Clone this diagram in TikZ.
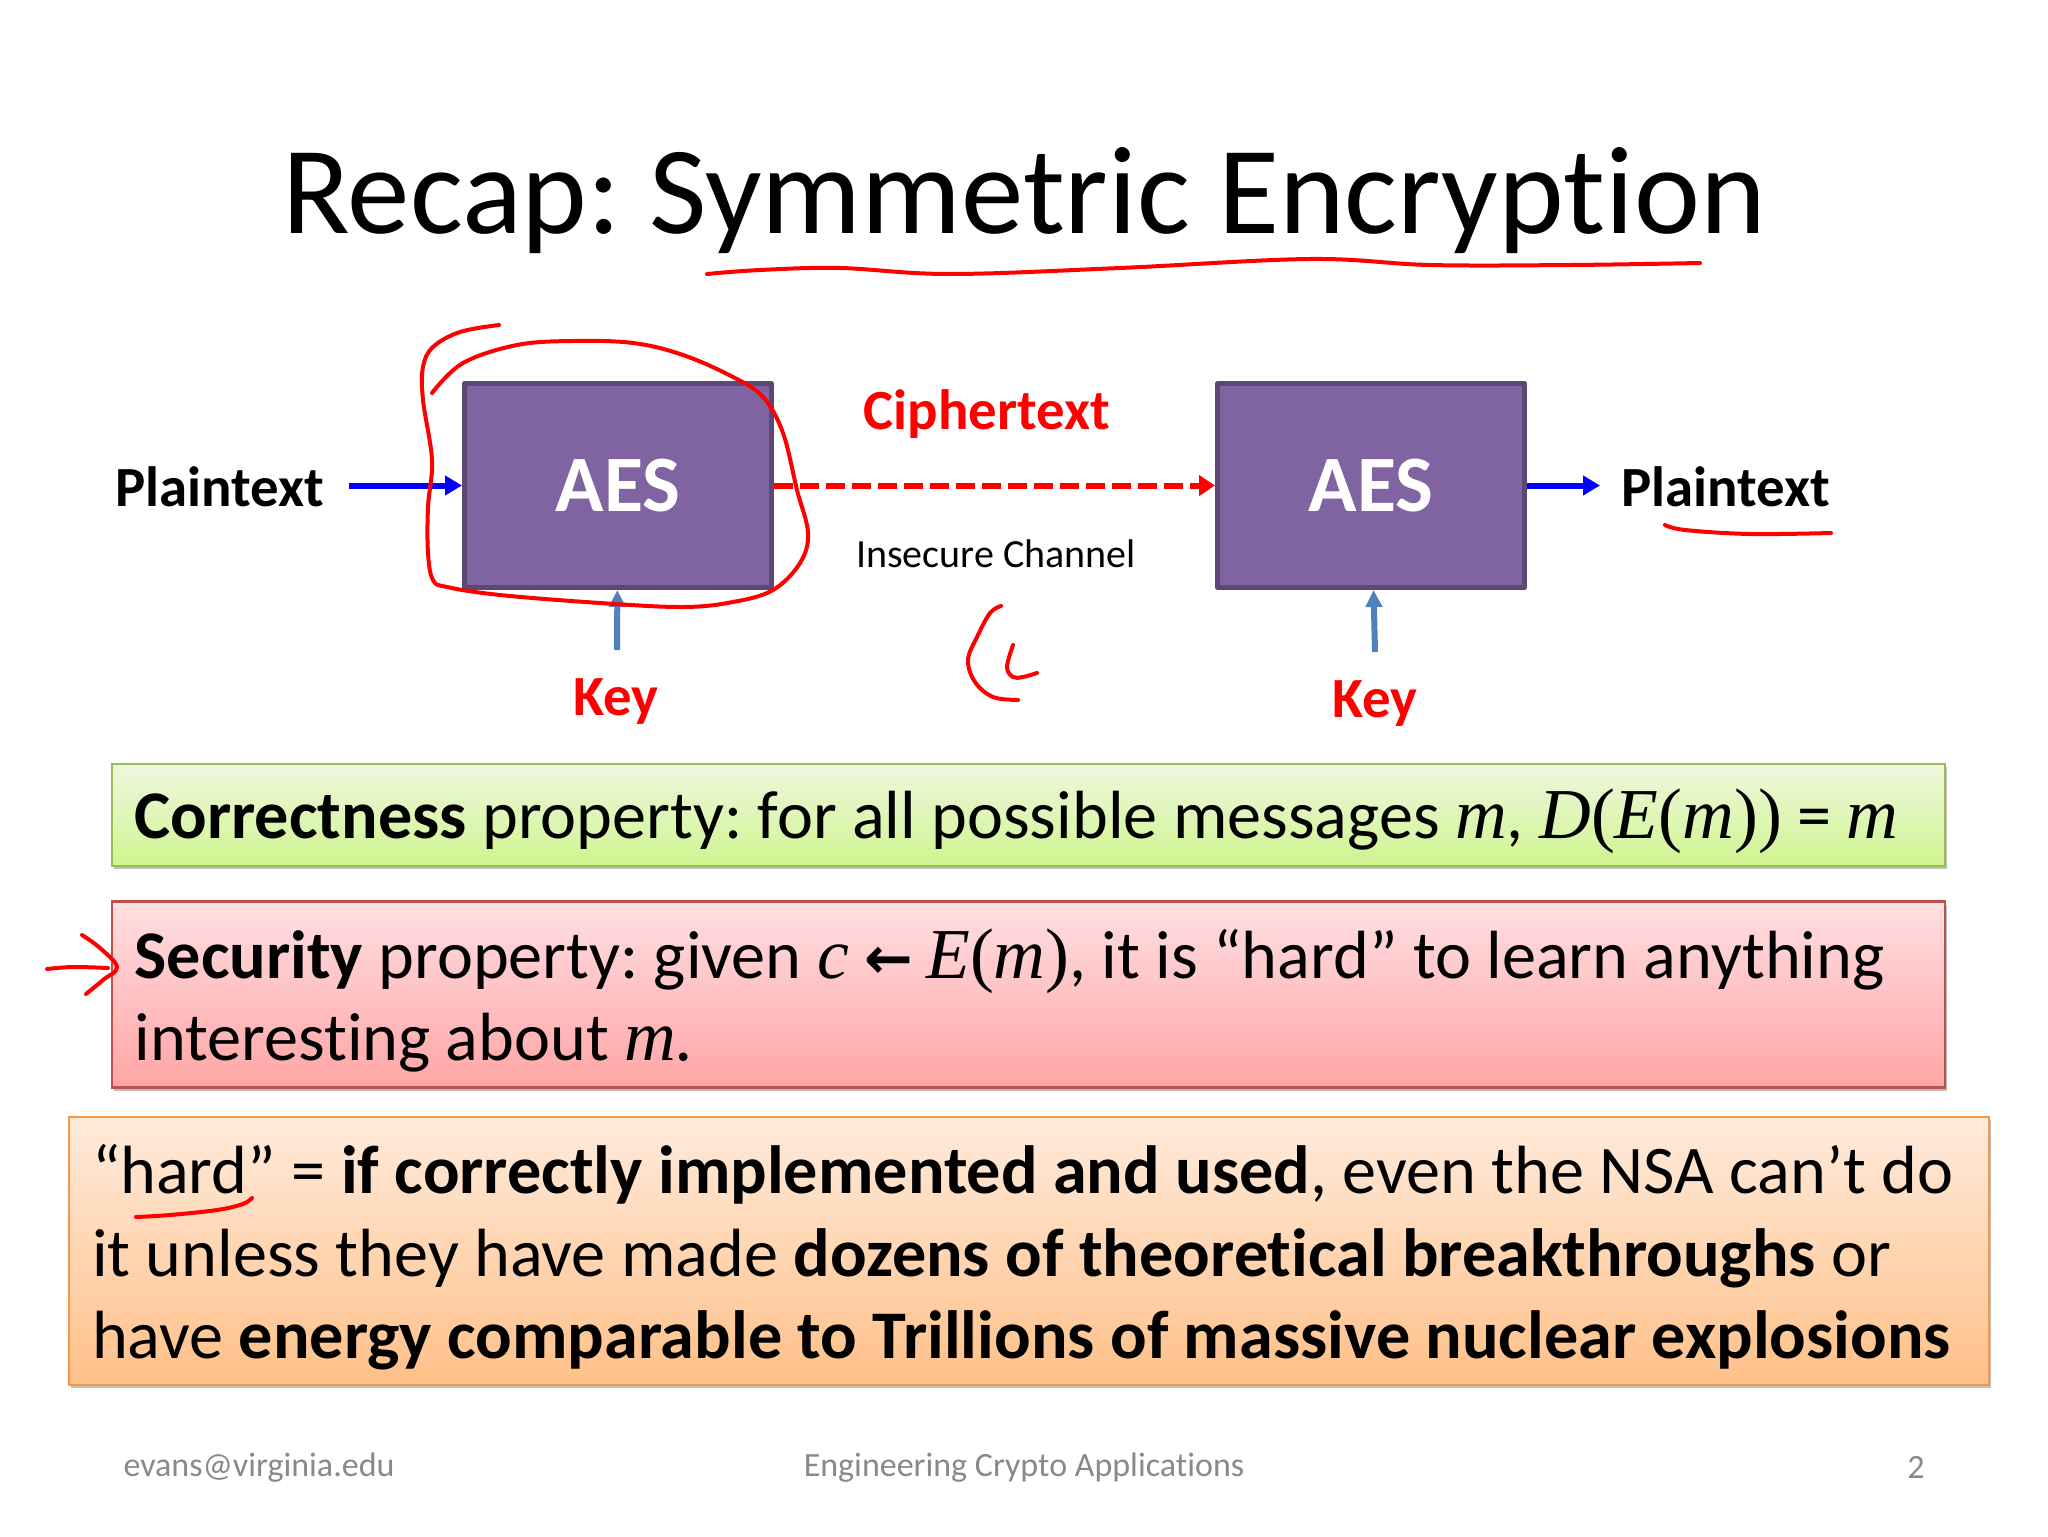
\documentclass[tikz,border=0pt]{standalone}
\usepackage{fontspec}
\setmainfont{Carlito}[Ligatures={TeX,CommonOff}]
\newfontfamily\symbfont{Liberation Serif}[Scale=1.05]
\newfontfamily\arrowfont{DejaVu Sans}
\newcommand{\mvar}[1]{{\symbfont\itshape #1}}
\newcommand{\mrm}[1]{{\symbfont #1}}
\usetikzlibrary{arrows.meta,shadows}
\definecolor{aesfill}{HTML}{8064A2}
\definecolor{aesline}{HTML}{5C4776}
\definecolor{keyblue}{HTML}{4F81BD}
\definecolor{footgray}{HTML}{898989}
\definecolor{okline}{HTML}{9BBB59}
\definecolor{oktop}{HTML}{EFF7DF}
\definecolor{okbot}{HTML}{CFF58F}
\definecolor{secline}{HTML}{C0504D}
\definecolor{sectop}{HTML}{FFDFE2}
\definecolor{secbot}{HTML}{FFA5A5}
\definecolor{hardline}{HTML}{F79646}
\definecolor{hardtop}{HTML}{FFEBDC}
\definecolor{hardbot}{HTML}{FFC088}
\frenchspacing
\tikzset{
  aes/.style={draw=aesline,fill=aesfill,line width=2.5pt,line join=round,minimum width=153.5pt,minimum height=102pt,text=white,font=\fontsize{40}{40}\selectfont\bfseries},
  lbl/.style={inner sep=0pt,font=\fontsize{28.4}{28.4}\selectfont\bfseries},
  foot/.style={inner sep=0pt,text=footgray,font=\fontsize{17}{17}\selectfont},
  prop/.style={line width=1.25pt,inner sep=0pt,align=flush left,font=\fontsize{34.1}{41.2}\selectfont,execute at begin node={\rule{0pt}{31pt}},drop shadow={shadow xshift=0.8pt,shadow yshift=-1.5pt,opacity=0.25,fill=black}},
  feed/.style={blue,line width=3pt,-{Triangle[length=8.5pt,width=9.5pt]}},
  keyin/.style={keyblue,line width=3pt,-{Triangle[length=8.5pt,width=8pt]}},
  ink/.style={red,line width=2pt,line cap=round,line join=round},
}
\begin{document}
\begin{tikzpicture}[x=0.5pt,y=-0.5pt]
      \useasboundingbox (0,0) rectangle (2048,1536);
      \node[inner sep=0pt,font=\fontsize{62.5}{62.5}\selectfont] (title) at (1024,201) {Recap: Symmetric Encryption};
      \node[aes] (aesl) at (618,485.5) {AES};
      \node[aes] (aesr) at (1371,485.5) {AES};
      \node[lbl] (plainin) at (220,487) {Plaintext};
      \node[lbl] (plainout) at (1726,487) {Plaintext};
      \node[lbl,text=red] (cipher) at (987,414) {Ciphertext};
      \node[inner sep=0pt,font=\fontsize{20}{20}\selectfont] (channel) at (996,554) {Insecure Channel};
      \node[lbl,text=red] (keyl) at (616,702) {Key};
      \node[lbl,text=red] (keyr) at (1375,704) {Key};
      \coordinate (feedin) at (349,485.5);
      \coordinate (feedout) at (1600,485.5);
      \coordinate (kl) at (617,650);
      \coordinate (kr) at (1375,652);
      \foreach \i/\j in {feedin/aesl, aesr/feedout} {
	\path[feed] (\i) edge (\j);
      };
      \foreach \i/\j in {kl/aesl, kr/aesr} {
	\path[keyin] (\i) edge (\j);
      };
      \draw[red,line width=3pt,dash pattern=on 9.5pt off 3.5pt,-{Triangle[length=8pt,width=10pt]}] (aesl) -- (aesr);
      \node[prop,draw=okline,top color=oktop,bottom color=okbot,minimum width=916.5pt,minimum height=51pt,text width=894pt] (correct) at (1028.5,815) {\textbf{Correctness} property: for all possible messages \mvar{m}, \mvar{D}\mrm{(}\mvar{E}\mrm{(}\mvar{m}\mrm{))} = \mvar{m}};
      \node[prop,draw=secline,top color=sectop,bottom color=secbot,minimum width=916.5pt,minimum height=93pt,text width=894pt] (secure) at (1028.5,994.5) {\textbf{Security} property: given \mvar{c} {\arrowfont\bfseries\fontsize{29}{29}\selectfont ←}\hspace{-1pt} \mvar{E}\mrm{(}\mvar{m}\mrm{)}, it is “hard” to learn anything\\interesting about \mvar{m.}};
      \node[prop,draw=hardline,top color=hardtop,bottom color=hardbot,minimum width=960pt,minimum height=134pt,text width=937pt] (hard) at (1029,1251) {“hard” = \textbf{if correctly implemented and used}, even the NSA can’t do\\it unless they have made \textbf{dozens of theoretical breakthroughs} or\\have \textbf{energy comparable to Trillions of massive nuclear explosions}};
      \node[foot] (mail) at (259,1468) {evans@virginia.edu};
      \node[foot] (course) at (1024,1468) {Engineering Crypto Applications};
      \node[foot] (page) at (1916,1467) {2};
      \draw[ink] plot[smooth,tension=0.6] coordinates {(707,274) (760,270) (840,268) (950,274) (1120,268) (1310,259) (1430,265) (1570,265) (1700,263)};
      \draw[ink] plot[smooth,tension=0.6] coordinates {(499,325) (460,332) (433,347) (423,367) (423,400) (432,460) (428,507) (428,553) (433,580) (447,587) (500,595) (600,603) (683,607) (733,602) (773,590) (800,563) (808,533) (797,490) (783,433) (763,397) (733,377) (683,355) (633,343) (573,341) (517,345) (463,363) (432,393)};
      \draw[ink] plot[smooth,tension=0.6] coordinates {(1001,606) (990,613) (977,637) (968,660) (975,682) (993,697) (1018,700)};
      \draw[ink] plot[smooth,tension=0.6] coordinates {(1013,645) (1007,667) (1013,677) (1023,677) (1037,673)};
      \draw[ink] plot[smooth,tension=0.6] coordinates {(1665,525) (1685,530) (1750,534) (1831,533)};
      \draw[ink] plot[smooth,tension=0.6] coordinates {(47,969) (73,967) (108,968)};
      \draw[ink] plot[smooth,tension=0.6] coordinates {(82,935) (100,948) (117,967) (103,980) (86,994)};
      \draw[ink] plot[smooth,tension=0.6] coordinates {(136,1217) (170,1215) (217,1210) (243,1204) (252,1198)};
    \end{tikzpicture}
\end{document}
